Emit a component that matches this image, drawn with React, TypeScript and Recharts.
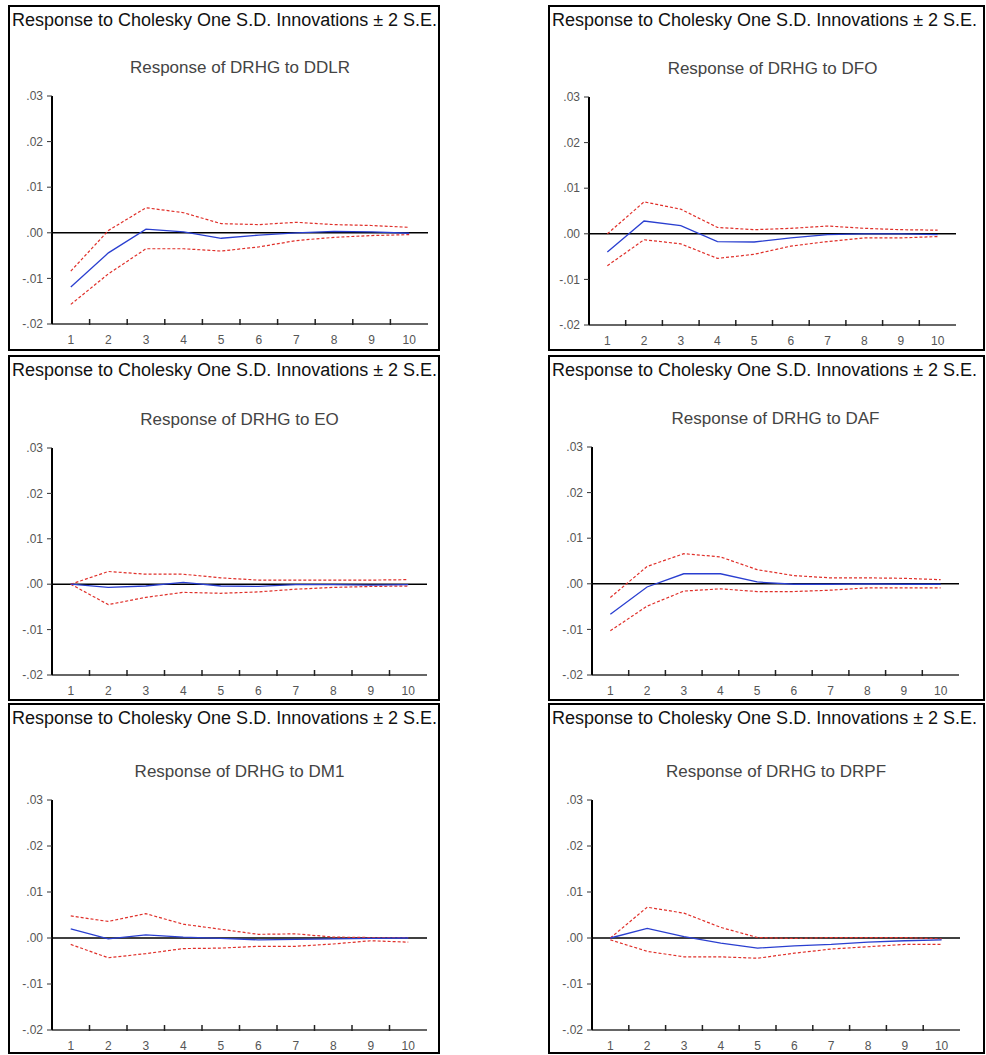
import React from "react"
import { LineChart, Line, XAxis, YAxis, ReferenceLine } from "recharts"

const PERIODS = [1, 2, 3, 4, 5, 6, 7, 8, 9, 10]
const Y_TICKS = [-0.02, -0.01, 0, 0.01, 0.02, 0.03]
const HEADER = "Response to Cholesky One S.D. Innovations ± 2 S.E."

const ddlrResponse = [-0.0119, -0.0044, 0.0008, 0.0002, -0.0012, -0.0005, 0.0, 0.0003, 0.0002, -0.0001]
const ddlrUpper = [-0.0084, 0.0005, 0.0055, 0.0044, 0.002, 0.0018, 0.0023, 0.0018, 0.0016, 0.0012]
const ddlrLower = [-0.0157, -0.009, -0.0035, -0.0035, -0.004, -0.0031, -0.0017, -0.001, -0.0006, -0.0004]

const dfoResponse = [-0.004, 0.0028, 0.0018, -0.0017, -0.0018, -0.0009, -0.0002, 0.0, 0.0, -0.0002]
const dfoUpper = [0.0, 0.007, 0.0054, 0.0014, 0.0009, 0.0012, 0.0017, 0.0012, 0.0009, 0.0008]
const dfoLower = [-0.007, -0.0013, -0.0022, -0.0054, -0.0045, -0.0027, -0.0017, -0.0009, -0.0009, -0.0006]

const eoResponse = [0.0, -0.0007, -0.0004, 0.0004, -0.0004, -0.0005, -0.0001, -0.0001, -0.0002, -0.0001]
const eoUpper = [0.0, 0.0028, 0.0022, 0.0022, 0.0014, 0.0009, 0.0009, 0.0009, 0.0009, 0.001]
const eoLower = [0.0, -0.0045, -0.0029, -0.0018, -0.002, -0.0017, -0.0011, -0.0007, -0.0005, -0.0004]

const dafResponse = [-0.0067, -0.0007, 0.0022, 0.0022, 0.0004, -0.0001, -0.0001, 0.0, -0.0001, -0.0001]
const dafUpper = [-0.003, 0.0038, 0.0066, 0.0059, 0.0031, 0.0018, 0.0013, 0.0013, 0.0012, 0.0009]
const dafLower = [-0.0103, -0.0049, -0.0016, -0.0011, -0.0017, -0.0017, -0.0014, -0.0009, -0.0009, -0.0009]

const dm1Response = [0.002, -0.0002, 0.0007, 0.0002, -0.0001, -0.0004, -0.0003, -0.0002, -0.0001, 0.0]
const dm1Upper = [0.0048, 0.0036, 0.0053, 0.003, 0.0019, 0.0008, 0.0009, 0.0002, 0.0001, 0.0001]
const dm1Lower = [-0.0014, -0.0043, -0.0034, -0.0023, -0.0022, -0.0018, -0.0018, -0.0013, -0.0006, -0.0009]

const drpfResponse = [0.0, 0.0021, 0.0003, -0.0011, -0.0022, -0.0017, -0.0014, -0.0009, -0.0006, -0.0004]
const drpfUpper = [0.0, 0.0067, 0.0054, 0.0023, 0.0001, -0.0001, 0.0001, 0.0001, 0.0001, -0.0002]
const drpfLower = [-0.0004, -0.0029, -0.0041, -0.0041, -0.0044, -0.0033, -0.0024, -0.0019, -0.0014, -0.0014]

// page-pixel layout of each framed panel and its plot area
const panels = [
  { shock: "DDLR", response: ddlrResponse, upper: ddlrUpper, lower: ddlrLower,
    box: { x: 8, y: 5, w: 432, h: 346 }, plot: { l: 52, r: 428, t: 96, b: 324 } },
  { shock: "DFO", response: dfoResponse, upper: dfoUpper, lower: dfoLower,
    box: { x: 548, y: 5, w: 437, h: 346 }, plot: { l: 589, r: 956, t: 97, b: 325 } },
  { shock: "EO", response: eoResponse, upper: eoUpper, lower: eoLower,
    box: { x: 8, y: 355, w: 432, h: 346 }, plot: { l: 52, r: 427, t: 448, b: 675 } },
  { shock: "DAF", response: dafResponse, upper: dafUpper, lower: dafLower,
    box: { x: 548, y: 355, w: 437, h: 346 }, plot: { l: 592, r: 959, t: 447, b: 675 } },
  { shock: "DM1", response: dm1Response, upper: dm1Upper, lower: dm1Lower,
    box: { x: 8, y: 703, w: 432, h: 351 }, plot: { l: 52, r: 427, t: 800, b: 1030 } },
  { shock: "DRPF", response: drpfResponse, upper: drpfUpper, lower: drpfLower,
    box: { x: 548, y: 703, w: 437, h: 351 }, plot: { l: 592, r: 960, t: 800, b: 1030 } },
]

const fmtY = (v: number) => (v < 0 ? "-" : "") + Math.abs(v).toFixed(2).replace(/^0/, "")

const PAD_L = 50
const PAD_R = 10
const PAD_T = 10
const PAD_B = 30
const BORDER = 2
const FONT = "Liberation Sans, Arial, sans-serif"

function XTick(props: any) {
  const { x, y, payload, band } = props
  return (
    <g>
      <text x={x} y={y + 20} textAnchor="middle" fontSize={12} fill="#555" fontFamily={FONT}>
        {payload.value}
      </text>
      {payload.value < 10 && (
        <line x1={x + band / 2} x2={x + band / 2} y1={y - 5} y2={y + 1} stroke="#222" strokeWidth={1.5} />
      )}
    </g>
  )
}

function IrfPanel({ shock, response, upper, lower, box, plot }: any) {
  const data = PERIODS.map((p, i) => ({ period: p, response: response[i], upper: upper[i], lower: lower[i] }))
  const plotW = plot.r - plot.l
  const plotH = plot.b - plot.t
  const band = plotW / PERIODS.length
  return (
    <div
      style={{
        position: "absolute",
        left: box.x,
        top: box.y,
        width: box.w,
        height: box.h,
        border: `${BORDER}px solid #000`,
        boxSizing: "border-box",
        background: "#fff",
      }}
    >
      <div style={{ position: "absolute", left: 2, top: 3, fontSize: 18, color: "#111", whiteSpace: "nowrap", lineHeight: "20px" }}>
        {HEADER}
      </div>
      <div
        style={{
          position: "absolute",
          left: plot.l - box.x - BORDER,
          width: plotW,
          top: plot.t - box.y - BORDER - 38,
          textAlign: "center",
          fontSize: 17,
          lineHeight: "19px",
          color: "#444",
          whiteSpace: "nowrap",
        }}
      >
        Response of DRHG to {shock}
      </div>
      <div style={{ position: "absolute", left: plot.l - box.x - BORDER - PAD_L, top: plot.t - box.y - BORDER - PAD_T }}>
        <LineChart
          width={plotW + PAD_L + PAD_R}
          height={plotH + PAD_T + PAD_B}
          data={data}
          margin={{ top: PAD_T, right: PAD_R, left: 0, bottom: 0 }}
        >
          <XAxis
            dataKey="period"
            type="number"
            domain={[0.5, 10.5]}
            ticks={PERIODS}
            interval={0}
            height={PAD_B}
            tickSize={0}
            tickMargin={0}
            tickLine={false}
            axisLine={{ stroke: "#333", strokeWidth: 1.5 }}
            tick={<XTick band={band} />}
          />
          <XAxis xAxisId="top" orientation="top" type="number" domain={[0.5, 10.5]} height={0} tick={false} tickLine={false} axisLine={{ stroke: "#222", strokeWidth: 1.5 }} />
          <YAxis
            type="number"
            domain={[-0.02, 0.03]}
            ticks={Y_TICKS}
            interval={0}
            width={PAD_L}
            tickFormatter={fmtY}
            tickSize={5}
            tickMargin={4}
            tickLine={{ stroke: "#333" }}
            axisLine={{ stroke: "#000", strokeWidth: 2 }}
            tick={{ fontSize: 12, fill: "#555", fontFamily: FONT }}
          />
          <YAxis yAxisId="right" orientation="right" type="number" domain={[-0.02, 0.03]} width={0} tick={false} tickLine={false} axisLine={{ stroke: "#333", strokeWidth: 1.5 }} />
          <ReferenceLine y={0} stroke="#000" strokeWidth={1.5} />
          <Line dataKey="upper" type="linear" stroke="#e0302a" strokeWidth={1.2} strokeDasharray="3 2" dot={false} isAnimationActive={false} />
          <Line dataKey="lower" type="linear" stroke="#e0302a" strokeWidth={1.2} strokeDasharray="3 2" dot={false} isAnimationActive={false} />
          <Line dataKey="response" type="linear" stroke="#2a3fd0" strokeWidth={1.3} dot={false} isAnimationActive={false} />
        </LineChart>
      </div>
    </div>
  )
}

export default function App() {
  return (
    <div
      style={{
        position: "absolute",
        left: 0,
        top: 0,
        width: 986,
        height: 1055,
        background: "#fff",
        fontFamily: FONT,
      }}
    >
      {panels.map((p) => (
        <IrfPanel key={p.shock} {...p} />
      ))}
    </div>
  )
}
